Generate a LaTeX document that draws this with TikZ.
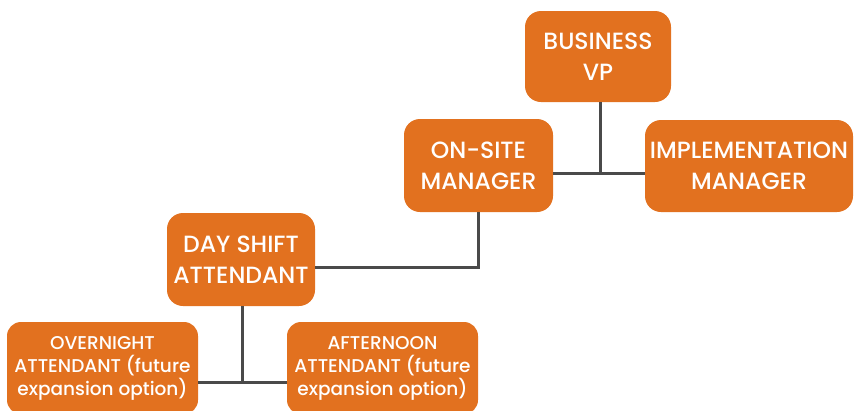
\documentclass[tikz,border=0pt]{standalone}
\usepackage{fontspec}
\setmainfont{Poppins}[UprightFont=* Medium]
\usetikzlibrary{calc}
\usetikzlibrary{positioning}

\definecolor{boxorange}{HTML}{E2711F}
\definecolor{linegray}{HTML}{4A4A4A}

\begin{document}
\begin{tikzpicture}[x=1pt, y=1pt,
    role/.style={fill=boxorange, text=white, rounded corners=16pt, align=center,
        inner sep=0pt, font=\fontsize{23.5}{31}\selectfont},
    smallrole/.style={role, rounded corners=14pt, font=\fontsize{18.5}{23}\selectfont},
    link/.style={draw=linegray, line width=3pt}]

\clip (0, 0) rectangle (854, -410);

% junction points
\coordinate (j1) at (600, -173);
\coordinate (j2) at (478.5, -267);
\coordinate (j3) at (242, -382);

\node[role, minimum width=146, minimum height=91] at (598, -56.5) (vp) {BUSINESS\\VP};
\node[role, minimum width=149, minimum height=93] at (478.5, -165.5) (onsite) {ON-SITE\\MANAGER};
\node[role, minimum width=208, minimum height=92] at (749, -166) (impl) {IMPLEMENTATION\\MANAGER};
\node[role, minimum width=148, minimum height=93] at (241, -259.5) (day) {DAY SHIFT\\ATTENDANT};

\node[smallrole, minimum width=191, minimum height=92] at (102.5, -368) (night) {OVERNIGHT\\ATTENDANT (future\\expansion option)};
\node[smallrole, minimum width=191, minimum height=92] at (382.5, -368) (noon) {AFTERNOON\\ATTENDANT (future\\expansion option)};

\draw[link] (vp.south -| j1) -- (j1);
\draw[link] (onsite.east |- j1) -- (impl.west |- j1);

\draw[link] (onsite.south) -- (j2) -- (day.east |- j2);

\draw[link] (day.south -| j3) -- (j3);
\draw[link] (night.east |- j3) -- (noon.west |- j3);

\end{tikzpicture}
\end{document}
